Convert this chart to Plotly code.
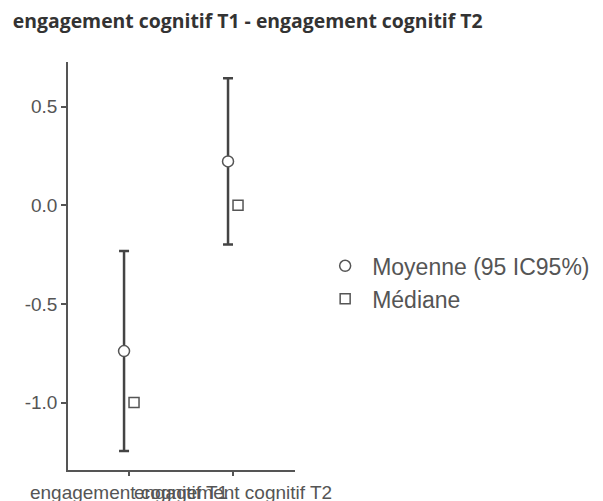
import plotly.graph_objects as go

categories = ["engagement cognitif T1", "engagement cognitif T2"]
means = [-0.739, 0.223]
ci_lower = [-1.246, -0.198]
ci_upper = [-0.232, 0.644]
medians = [-1.0, 0.0]
cat_pos = [0, 1]

dodge = 0.048
mean_x = [p - dodge for p in cat_pos]
med_x = [p + dodge for p in cat_pos]

gray = "#555555"
fig = go.Figure()
fig.add_trace(go.Scatter(
    x=mean_x, y=means, mode="markers", name="Moyenne (95 IC95%)",
    marker=dict(symbol="circle", size=11, color="white", line=dict(color=gray, width=1.5)),
    error_y=dict(type="data", symmetric=False,
                 array=[u - m for u, m in zip(ci_upper, means)],
                 arrayminus=[m - l for m, l in zip(means, ci_lower)],
                 color="#444444", thickness=2.5, width=5),
))
fig.add_trace(go.Scatter(
    x=med_x, y=medians, mode="markers", name="Médiane",
    marker=dict(symbol="square", size=10, color="white", line=dict(color=gray, width=1.5)),
))

fig.update_layout(
    width=603, height=501,
    plot_bgcolor="white", paper_bgcolor="white",
    margin=dict(l=60, r=316, t=54, b=39),
    title=dict(text="<b>engagement cognitif T1 - engagement cognitif T2</b>",
               x=0.008, xanchor="left", y=0.974, yanchor="middle",
               font=dict(family="Open Sans", size=19.4, color="#333333")),
    legend=dict(x=1.102, xanchor="left", y=0.46, yanchor="middle",
                font=dict(family="Liberation Sans, Arial", size=23, color=gray),
                itemwidth=44, tracegroupgap=0),
    font=dict(family="Liberation Sans, Arial", color=gray),
)
fig.update_xaxes(range=[-0.587, 1.596], tickvals=cat_pos, ticktext=categories,
                 tickangle=0, automargin=False,
                 showline=True, linecolor=gray, linewidth=1.5, showgrid=False, zeroline=False,
                 ticks="outside", ticklen=4, tickwidth=1.5, tickcolor=gray,
                 tickfont=dict(size=19, color=gray))
fig.update_yaxes(range=[-1.342, 0.727], tickvals=[-1.0, -0.5, 0.0, 0.5],
                 ticktext=["-1.0", "-0.5", "0.0", "0.5"], automargin=False,
                 showline=True, linecolor=gray, linewidth=1.5, showgrid=False, zeroline=False,
                 ticks="outside", ticklen=5, tickwidth=1.5, tickcolor=gray,
                 tickfont=dict(size=19, color=gray))

fig.write_html("out.html")
